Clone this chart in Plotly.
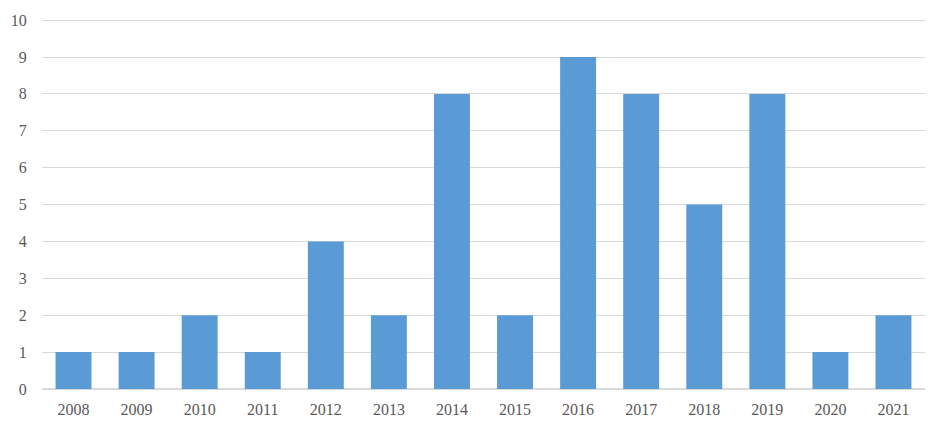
import plotly.graph_objects as go

# yearly counts
years = ["2008", "2009", "2010", "2011", "2012", "2013", "2014",
         "2015", "2016", "2017", "2018", "2019", "2020", "2021"]
counts = [1, 1, 2, 1, 4, 2, 8, 2, 9, 8, 5, 8, 1, 2]

fig = go.Figure()
fig.add_trace(go.Bar(x=years, y=counts, marker_color="#5B9BD5",
                     marker_line_width=0))

tick_font = dict(family="Liberation Serif, Times New Roman, serif", size=16, color="#595959")

# page body adds 8px, so margins are shifted to land the plot area where the original is
fig.update_layout(
    width=945, height=431,
    margin=dict(l=34, r=28, t=11, b=50),
    plot_bgcolor="white", paper_bgcolor="white",
    bargap=0.43,
    showlegend=False,
)
fig.update_xaxes(type="category", tickfont=tick_font, showline=True,
                 linecolor="#d9d9d9", linewidth=1, ticks="outside",
                 ticklen=6, tickcolor="rgba(0,0,0,0)", automargin=False)
fig.update_yaxes(range=[0, 10.03], dtick=1, tickfont=tick_font,
                 showgrid=True, gridcolor="#d9d9d9", gridwidth=1,
                 zeroline=True, zerolinecolor="#d9d9d9",
                 ticks="outside", ticklen=11, tickcolor="rgba(0,0,0,0)",
                 automargin=False)

fig.write_html("out.html")
